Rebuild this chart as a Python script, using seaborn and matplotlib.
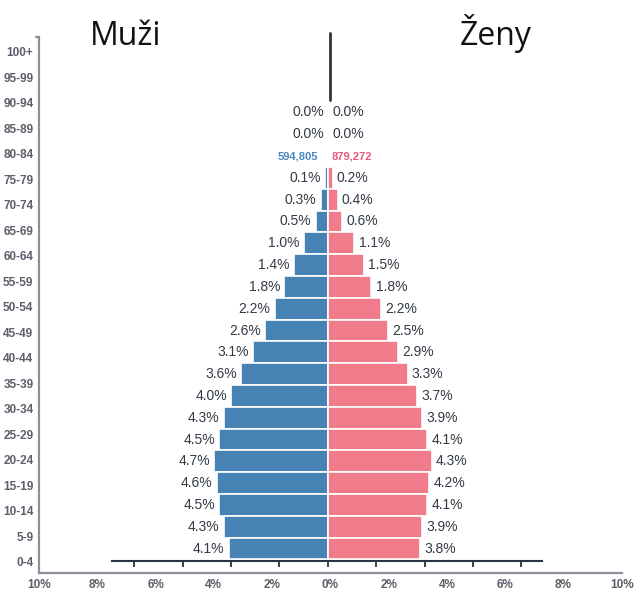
import numpy as np
import pandas as pd
import matplotlib
matplotlib.use("Agg")
import matplotlib.pyplot as plt
import seaborn as sns

# --- DATA ---
vekove_skupiny = ['0-4', '5-9', '10-14', '15-19', '20-24', '25-29', '30-34', '35-39',
                  '40-44', '45-49', '50-54', '55-59', '60-64', '65-69', '70-74',
                  '75-79', '80-84', '85-89', '90-94', '95-99', '100+']
muzi = [4.1, 4.3, 4.5, 4.6, 4.7, 4.5, 4.3, 4.0, 3.6, 3.1, 2.6, 2.2, 1.8, 1.4, 1.0,
        0.5, 0.3, 0.1, 0.0, 0.0, 0.0]
zeny = [3.8, 3.9, 4.1, 4.2, 4.3, 4.1, 3.9, 3.7, 3.3, 2.9, 2.5, 2.2, 1.8, 1.5, 1.1,
        0.6, 0.4, 0.2, 0.0, 0.0, 0.0]
radek_pocet = '90-94'
muzi_pocet = '594,805'
zeny_pocet = '879,272'
osa_vnejsi = [-10, -8, -6, -4, -2, 0, 2, 4, 6, 8, 10]
osa_vnitrni = [-8, -6, -4, -2, 0, 2, 4, 6, 8]

# --- STYL ---
MODRA = '#4682b4'
RUZOVA = '#ef7b8b'
SEDA_OSA = '#8c909a'
SEDA_TEXT = '#5b5f69'
TMAVA = '#2b3445'
TEXT_HODNOT = '#333a45'
UZKE = ['Liberation Sans Narrow', 'Liberation Sans', 'DejaVu Sans']

sns.set_style('white')
plt.rcParams['font.family'] = ['Liberation Sans', 'DejaVu Sans']

W, H = 644, 593


def obdelnik(x0, y0, x1, y1):
    return [x0 / W, 1 - y1 / H, (x1 - x0) / W, (y1 - y0) / H]


fig = plt.figure(figsize=(W / 100, H / 100), dpi=100)
ax_out = fig.add_axes(obdelnik(39, 37, 621.7, 573))
ax = fig.add_axes(obdelnik(112, 37, 542, 561))

# --- vnejsi osa (procenta + vekove skupiny) ---
ax_out.set_xlim(-10, 10)
ax_out.set_ylim(-0.443, 20.576)
ax_out.set_xticks(osa_vnejsi)
ax_out.set_xticklabels([f'{abs(v)}%' for v in osa_vnejsi])
ax_out.set_yticks(range(len(vekove_skupiny)))
ax_out.set_yticklabels(vekove_skupiny)
ax_out.tick_params(axis='y', length=0, pad=4, labelsize=8.5, labelcolor=SEDA_TEXT)
ax_out.tick_params(axis='x', direction='in', length=6, width=1.3, color=SEDA_OSA,
                   pad=4, labelsize=8.5, labelcolor=SEDA_TEXT)
for lab in ax_out.get_xticklabels() + ax_out.get_yticklabels():
    lab.set_fontweight('bold')
    lab.set_family(UZKE)
for s in ['top', 'right']:
    ax_out.spines[s].set_visible(False)
for s in ['left', 'bottom']:
    ax_out.spines[s].set_color(SEDA_OSA)
    ax_out.spines[s].set_linewidth(1.6)
ax_out.plot([-0.006, 0], [1, 1], transform=ax_out.transAxes, color=SEDA_OSA,
            lw=1.6, clip_on=False)

nula = ax_out.xaxis.get_major_ticks()[osa_vnejsi.index(0)]
nula.tick1line.set_color('#222222')
nula.tick1line.set_markersize(8)
nula.tick1line.set_markeredgewidth(2.2)
ax_out.axvline(0, ymin=0.8825, ymax=1.0075, color='#333333', lw=2, clip_on=False)

# --- pyramida ---
df = pd.DataFrame({'vek': vekove_skupiny, 'muzi': muzi, 'zeny': zeny})
df['muzi_x'] = -df['muzi']
poradi = vekove_skupiny[::-1]

sns.barplot(data=df, x='muzi_x', y='vek', order=poradi, orient='h', color=MODRA,
            saturation=1, width=1, edgecolor='white', linewidth=1.2, ax=ax)
sns.barplot(data=df, x='zeny', y='vek', order=poradi, orient='h', color=RUZOVA,
            saturation=1, width=1, edgecolor='white', linewidth=1.2, ax=ax)

serazeno = df.set_index('vek').loc[poradi]
for i, (vek, radek) in enumerate(serazeno.iterrows()):
    bm = ax.containers[0][i]
    bz = ax.containers[1][i]
    ym = bm.get_y() + bm.get_height() / 2
    xm = min(bm.get_x(), bm.get_x() + bm.get_width())
    xz = max(bz.get_x(), bz.get_x() + bz.get_width())
    if vek == radek_pocet:
        ax.annotate(muzi_pocet, (xm, ym), xytext=(-7, 0), textcoords='offset points',
                    ha='right', va='center', fontsize=8, fontweight='bold', color='#4a86c1')
        ax.annotate(zeny_pocet, (xz, ym), xytext=(3, 0), textcoords='offset points',
                    ha='left', va='center', fontsize=8, fontweight='bold', color='#e8577f')
    else:
        ax.annotate(f"{radek['muzi']:.1f}%", (xm, ym), xytext=(-3, 0), textcoords='offset points',
                    ha='right', va='center', fontsize=10, color=TEXT_HODNOT)
        ax.annotate(f"{radek['zeny']:.1f}%", (xz, ym), xytext=(3, 0), textcoords='offset points',
                    ha='left', va='center', fontsize=10, color=TEXT_HODNOT)

ax.set_xlim(-8.92, 8.85)
ax.set_ylim(20.573, -3.463)
ax.set_xticks(osa_vnitrni)
ax.set_xticklabels([])
ax.set_yticks([])
ax.set_xlabel('')
ax.set_ylabel('')
ax.tick_params(axis='x', direction='out', length=4, width=1.3, color=TMAVA, bottom=True)
ax.patch.set_alpha(0)
for s in ['top', 'left', 'right']:
    ax.spines[s].set_visible(False)
ax.spines['bottom'].set_color(TMAVA)
ax.spines['bottom'].set_linewidth(1.5)

# --- nadpisy ---
fig.text(125.4 / W, 1 - 45 / H, 'Muži', ha='center', va='baseline', fontsize=23,
         family='Open Sans', color='#111111')
fig.text(495.5 / W, 1 - 45 / H, 'Ženy', ha='center', va='baseline', fontsize=23,
         family='Open Sans', color='#111111')

fig.savefig('out.png', dpi=100)
